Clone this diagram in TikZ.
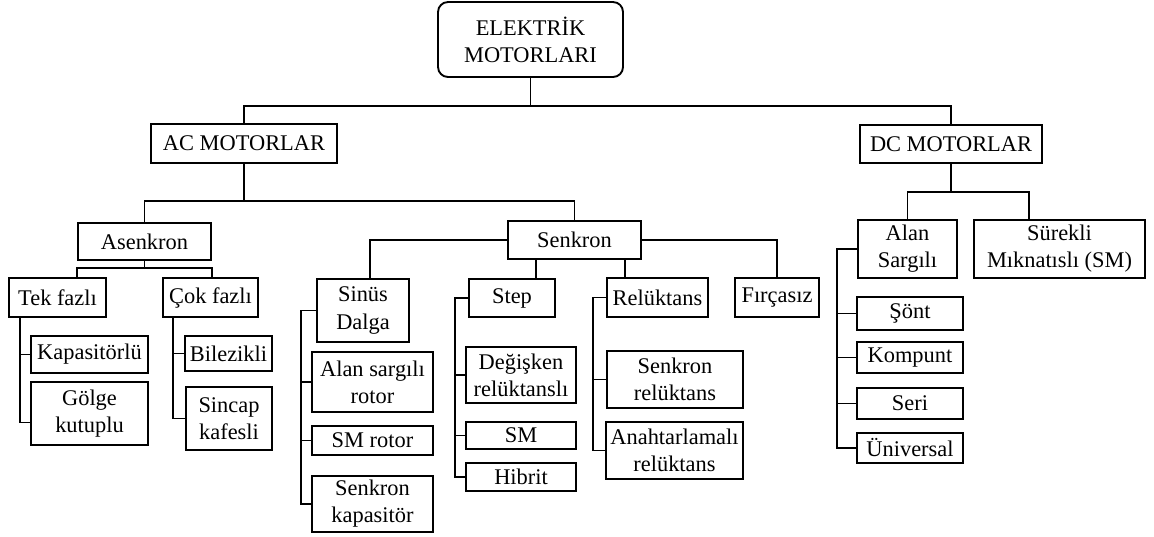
\documentclass[tikz,border=0pt]{standalone}
\usepackage{fontspec}
\setmainfont{Liberation Serif}
\usepackage{tikz}

\tikzset{
  motorbox/.style={draw, line width=1.4pt, align=center, inner sep=0pt, font={\fontsize{16.8}{20.3}\selectfont}},
  boxsize/.style 2 args={minimum width=#1*0.75pt, minimum height=#2*0.75pt},
  link/.style={line width=1.4pt}
}

\begin{document}
\begin{tikzpicture}[x=0.75pt,y=0.75pt,yscale=-1,xscale=1]
\useasboundingbox (0,0) rectangle (1154,536);

%Shape: Rounded Rect
\draw (530.5,39.5) node [motorbox, rounded corners=7.5pt, boxsize={185}{75}] (elek) {ELEKTR\.IK\\MOTORLARI};
% Text Node
\draw (244,143.5) node [motorbox, boxsize={186}{39}] (ac) {AC MOTORLAR};
% Text Node
\draw (951,144) node [motorbox, boxsize={182}{38}] (dc) {DC MOTORLAR};

% Text Node
\draw (144.5,241.5) node [motorbox, boxsize={133}{37}] (asenkron) {Asenkron};
% Text Node
\draw (574.5,240) node [motorbox, boxsize={133}{38}] (senkron) {Senkron};
% Text Node
\draw (57.5,297.5) node [motorbox, boxsize={97}{39}] (tek) {Tek fazlı};
% Text Node
\draw (210.5,297.5) node [motorbox, boxsize={95}{39}] (cok) {Çok fazlı};
% Text Node
\draw (89.5,354.5) node [motorbox, boxsize={117}{37}] (kapasitorlu) {Kapasitörlü};
% Text Node
\draw (89.5,413.5) node [motorbox, boxsize={117}{63}] (golge) {Gölge\\kutuplu};
% Text Node
\draw (228.5,353.5) node [motorbox, boxsize={87}{35}] (bilezikli) {Bilezikli};
% Text Node
\draw (229,418.5) node [motorbox, boxsize={86}{63}] (sincap) {Sincap\\kafesli};

% Text Node
\draw (363,310.5) node [motorbox, boxsize={92}{63}] (sinus) {Sinüs\\Dalga};
% Text Node
\draw (372.5,382) node [motorbox, boxsize={121}{60}] (alanrotor) {Alan sargılı\\rotor};
% Text Node
\draw (372.5,440.5) node [motorbox, boxsize={121}{29}] (smrotor) {SM rotor};
% Text Node
\draw (372.5,504) node [motorbox, boxsize={121}{56}] (senkkap) {Senkron\\kapasitör};
% Text Node
\draw (512,298) node [motorbox, boxsize={86}{38}] (step) {Step};
% Text Node
\draw (521,375) node [motorbox, boxsize={110}{56}] (degisken) {Değişken\\relüktanslı};
% Text Node
\draw (521,435.5) node [motorbox, boxsize={110}{27}] (sm) {SM};
% Text Node
\draw (521,477) node [motorbox, boxsize={110}{28}] (hibrit) {Hibrit};
% Text Node
\draw (657.5,297.5) node [motorbox, boxsize={101}{39}] (reluktans) {Relüktans};
% Text Node
\draw (777,297.5) node [motorbox, boxsize={84}{39}] (firca) {Fırçasız};
% Text Node
\draw (675,379.5) node [motorbox, boxsize={136}{57}] (senkrel) {Senkron\\relüktans};
% Text Node
\draw (674.5,450.5) node [motorbox, boxsize={137}{57}] (anahtar) {Anahtarlamalı\\relüktans};

% Text Node
\draw (907.5,249) node [motorbox, boxsize={99}{58}] (alansargili) {Alan\\Sargılı};
% Text Node
\draw (1059.5,249) node [motorbox, boxsize={171}{58}] (surekli) {Sürekli\\Mıknatıslı (SM)};
% Text Node
\draw (910,313.5) node [motorbox, boxsize={106}{33}] (sont) {Şönt};
% Text Node
\draw (910,357.5) node [motorbox, boxsize={106}{31}] (kompunt) {Kompunt};
% Text Node
\draw (910,403.5) node [motorbox, boxsize={106}{31}] (seri) {Seri};
% Text Node
\draw (910,448) node [motorbox, boxsize={106}{30}] (universal) {Üniversal};

%Straight Lines
\coordinate (topbar) at (532,106);
\draw [link] (elek.south) -- (elek.south |- topbar);
\draw [link] (ac.north) |- (topbar) -| (dc.north);
%Straight Lines
\coordinate (acbar) at (244,201);
\draw [link] (ac.south) -- (acbar);
\draw [link] (asenkron.north) |- (acbar) -| (senkron.north);
%Straight Lines
\coordinate (asbar) at (144.5,268);
\draw [link] (asenkron.south) -- (asbar);
\draw [link] (asenkron.west |- tek.north) |- (asbar) -| (asenkron.east |- cok.north);
%Straight Lines
\coordinate (sk1) at (370,0);
\coordinate (sk2) at (536,0);
\coordinate (sk3) at (625,0);
\draw [link] (senkron.west) -| (sk1 |- sinus.north);
\draw [link] (sk2 |- senkron.south) -- (sk2 |- step.north);
\draw [link] (sk3 |- senkron.south) -- (sk3 |- reluktans.north);
\draw [link] (senkron.east) -| (firca.north);
%Straight Lines
\coordinate (dcbar) at (951,192);
\coordinate (dk1) at (1029,0);
\draw [link] (dc.south) -- (dcbar);
\draw [link] (alansargili.north) |- (dcbar) -| (dk1 |- surekli.north);

%Straight Lines
\coordinate (tr1) at (20,0);
\draw [link] (tek.south -| tr1) |- ([yshift=6.75pt]golge.west);
\draw [link] (tr1 |- kapasitorlu.west) -- (kapasitorlu.west);
%Straight Lines
\coordinate (tr2) at (173,0);
\draw [link] (cok.south -| tr2) |- (sincap.west);
\draw [link] (tr2 |- bilezikli.west) -- (bilezikli.west);
%Straight Lines
\coordinate (tr3) at (301,0);
\draw [link] (sinus.west) -- (sinus.west -| tr3) |- (senkkap.west);
\draw [link] (tr3 |- alanrotor.west) -- (alanrotor.west);
\draw [link] (tr3 |- smrotor.west) -- (smrotor.west);
%Straight Lines
\coordinate (tr4) at (455,0);
\draw [link] (step.west) -- (step.west -| tr4) |- (hibrit.west);
\draw [link] (tr4 |- degisken.west) -- (degisken.west);
\draw [link] (tr4 |- sm.west) -- (sm.west);
%Straight Lines
\coordinate (tr5) at (593,0);
\draw [link] (reluktans.west) -- (reluktans.west -| tr5) |- (anahtar.west);
\draw [link] (tr5 |- senkrel.west) -- (senkrel.west);
%Straight Lines
\coordinate (tr6) at (837,0);
\draw [link] (alansargili.west) -- (alansargili.west -| tr6) |- (universal.west);
\draw [link] (tr6 |- sont.west) -- (sont.west);
\draw [link] (tr6 |- kompunt.west) -- (kompunt.west);
\draw [link] (tr6 |- seri.west) -- (seri.west);

\end{tikzpicture}
\end{document}
